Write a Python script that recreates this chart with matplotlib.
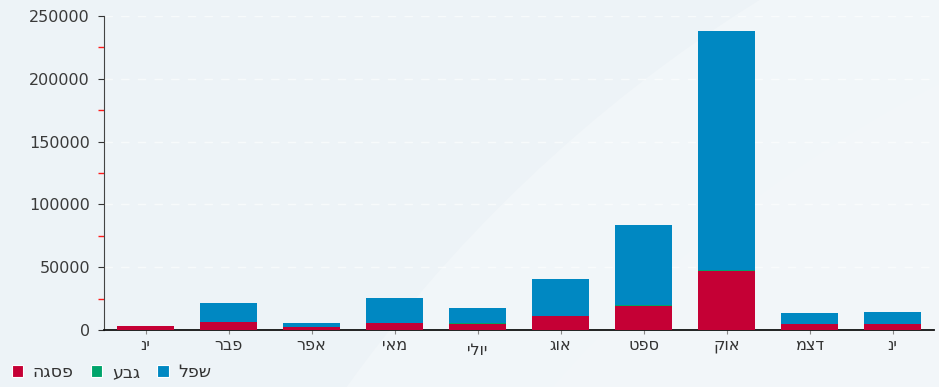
import numpy as np
import matplotlib.pyplot as plt
from matplotlib.patches import Patch, Circle
from matplotlib.ticker import MultipleLocator
from matplotlib.transforms import ScaledTranslation

# monthly totals split by level (label strings are stored in drawing order)
months = ["ני", "רבפ", "רפא", "יאמ", "ילוי", "גוא", "טפס", "קוא", "מצד", "ני"]
peak = [2800, 6100, 2600, 5300, 5000, 11100, 19300, 47200, 4800, 4800]
hill = [0, 200, 0, 200, 200, 300, 400, 900, 200, 200]
low = [0, 14900, 3200, 20200, 12300, 29400, 63800, 189900, 8300, 9600]

legend_names = ["הגספ", "עבג", "לפש"]
colors = ["#c50035", "#00a46b", "#0088c2"]

fig = plt.figure(figsize=(9.39, 3.87), dpi=100)
fig.patch.set_facecolor("#edf3f7")

# soft white swoosh behind the chart
bg = fig.add_axes([0, 0, 1, 1], zorder=0)
bg.set_xlim(0, 939)
bg.set_ylim(387, 0)
bg.axis("off")
bg.add_patch(Circle((1534, 1240), 1462, facecolor="white", alpha=0.25, lw=0))
bg.add_patch(Circle((1534, 1240), 1300, facecolor="white", alpha=0.1, lw=0))

ax = fig.add_axes([104 / 939, 1 - 330 / 387, 830 / 939, 314 / 387], zorder=1)
ax.patch.set_alpha(0)

x = np.arange(len(months))
w = 0.69
peak = np.array(peak)
hill = np.array(hill)
low = np.array(low)
ax.bar(x, peak, w, color=colors[0], zorder=3)
ax.bar(x, hill, w, bottom=peak, color=colors[1], zorder=3)
ax.bar(x, low, w, bottom=peak + hill, color=colors[2], zorder=3)

ax.set_xlim(-0.5, 9.5)
ax.set_ylim(0, 250000)
ax.yaxis.set_major_locator(MultipleLocator(50000))
ax.yaxis.set_minor_locator(MultipleLocator(25000))
ax.grid(axis="y", which="major", color="white", linestyle=(0, (6, 6)), lw=1, alpha=0.6, zorder=1)

ax.set_xticks(x)
ax.set_xticklabels(months)
ax.tick_params(axis="x", length=3, color="#888888", labelsize=11.5, labelcolor="#333333", pad=3)
ax.tick_params(axis="y", which="major", length=4, color="#333333", labelsize=11.5, labelcolor="#3a3a3a", pad=6)
ax.tick_params(axis="y", which="minor", length=4, width=1, color="#ff1a1a")

# the label with the tall lamed sits a little lower
lbl = ax.get_xticklabels()[4]
lbl.set_transform(lbl.get_transform() + ScaledTranslation(0, -5 / 100, fig.dpi_scale_trans))

for side in ["top", "right"]:
    ax.spines[side].set_visible(False)
ax.spines["left"].set_color("#444444")
ax.spines["bottom"].set_color("#111111")
ax.spines["bottom"].set_linewidth(1.3)

handles = [Patch(facecolor=c, edgecolor="white", lw=0.8) for c in colors]
fig.legend(handles, legend_names, loc="lower left", bbox_to_anchor=(-0.004, -0.025),
           ncol=3, frameon=False, fontsize=12.5, handlelength=0.65, handleheight=0.65,
           handletextpad=0.55, columnspacing=1.0, labelcolor="#333333")

fig.savefig("out.png", dpi=100, facecolor=fig.get_facecolor())
